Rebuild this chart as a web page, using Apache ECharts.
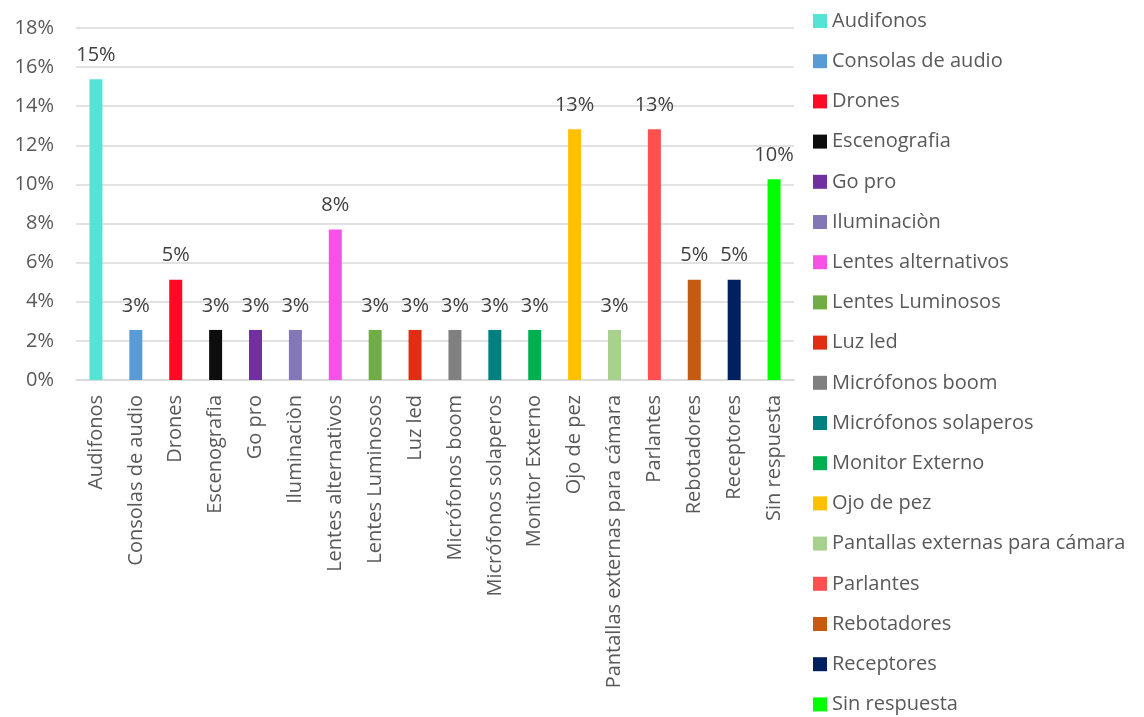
<!DOCTYPE html>
<html>
<head>
<meta charset="utf-8">
<script src="https://cdn.jsdelivr.net/npm/echarts@6/dist/echarts.min.js"></script>
<style>
  html, body { margin: 0; padding: 0; background: #fff; }
  #chart { width: 1144px; height: 717px; }
</style>
</head>
<body>
<div id="chart"></div>
<script>
// Equipment requested (share of responses, %)
const categories = [
  'Audifonos', 'Consolas de audio', 'Drones', 'Escenografia', 'Go pro',
  'Iluminaciòn', 'Lentes alternativos', 'Lentes Luminosos', 'Luz led',
  'Micrófonos boom', 'Micrófonos solaperos', 'Monitor Externo', 'Ojo de pez',
  'Pantallas externas para cámara', 'Parlantes', 'Rebotadores', 'Receptores',
  'Sin respuesta'
];
const values = [
  15.38, 2.56, 5.13, 2.56, 2.56,
  2.56, 7.69, 2.56, 2.56,
  2.56, 2.56, 2.56, 12.82,
  2.56, 12.82, 5.13, 5.13,
  10.26
];
const colors = [
  '#55e3d6', '#5b9bd5', '#ff0a26', '#0d0d0d', '#7030a0',
  '#8477b8', '#f752e6', '#70ad47', '#e02e12',
  '#808080', '#008080', '#00b050', '#ffc000',
  '#a9d18e', '#ff5050', '#c55a11', '#002060',
  '#00ff00'
];
const yTicks = { min: 0, max: 18, interval: 2 };

const FONT = '"Open Sans", "DejaVu Sans", sans-serif';
const TEXT = '#595959';

const chart = echarts.init(document.getElementById('chart'), null, { renderer: 'canvas' });

// One series per category so each gets its own legend entry; stacking keeps
// each bar centred in its slot.
const series = categories.map((name, i) => ({
  name: name,
  type: 'bar',
  stack: 'all',
  barWidth: 13,
  itemStyle: { color: colors[i] },
  label: {
    show: true,
    position: 'top',
    distance: 14,
    fontFamily: FONT,
    fontSize: 20,
    color: '#404040',
    formatter: p => Math.round(p.value) + '%'
  },
  emphasis: { disabled: true },
  data: categories.map((c, j) => (j === i ? values[i] : '-'))
}));

chart.setOption({
  animation: false,
  textStyle: { fontFamily: FONT },
  grid: { left: 76, right: 350, top: 28, bottom: 337, containLabel: false },
  legend: {
    orient: 'vertical',
    left: 813,
    top: 10,
    padding: 0,
    height: 707,
    icon: 'rect',
    itemWidth: 14,
    itemHeight: 14,
    itemGap: 18.2,
    textStyle: { fontFamily: FONT, fontSize: 20, color: TEXT, lineHeight: 22 },
    data: categories
  },
  xAxis: {
    type: 'category',
    data: categories,
    axisLine: { lineStyle: { color: '#d9d9d9', width: 1.5 } },
    axisTick: { show: false },
    axisLabel: {
      rotate: 90,
      interval: 0,
      margin: 15,
      fontFamily: FONT,
      fontSize: 20,
      color: TEXT
    }
  },
  yAxis: {
    type: 'value',
    min: yTicks.min,
    max: yTicks.max,
    interval: yTicks.interval,
    axisLine: { show: false },
    axisTick: { show: false },
    splitLine: { lineStyle: { color: '#d9d9d9', width: 1.5 } },
    axisLabel: {
      formatter: '{value}%',
      margin: 22,
      fontFamily: FONT,
      fontSize: 20,
      color: TEXT
    }
  },
  series: series
});
</script>
</body>
</html>
